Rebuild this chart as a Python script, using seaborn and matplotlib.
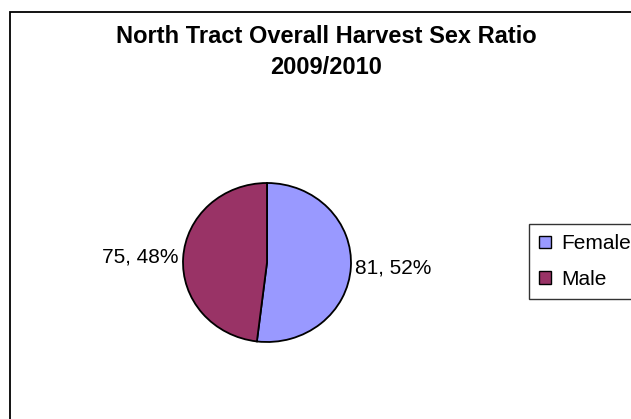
import matplotlib.pyplot as plt
import seaborn as sns
from matplotlib.patches import Rectangle

# Data
categories = ['Female', 'Male']
counts = [81, 75]
colors = ['#9999FF', '#993366']
title = "North Tract Overall Harvest Sex Ratio\n2009/2010"

sns.set_theme(style="white")
plt.rcParams['font.family'] = ['Liberation Sans', 'DejaVu Sans']
plt.rcParams['text.color'] = 'black'

W, H = 631, 419
fig = plt.figure(figsize=(W / 100, H / 100), dpi=100)
fig.patch.set_facecolor('white')

# chart frame (runs off the right and bottom edges in the reference)
fig.patches.append(Rectangle((9.5 / W, -0.1), 1.2, 1 - 12 / H + 0.1,
                             transform=fig.transFigure, fill=False,
                             edgecolor='black', linewidth=1.3))

# pie: slightly wider than tall, centre ~(267, 262)
cx, cy, rx, ry = 267, 262.5, 84, 79.5
ax = fig.add_axes([(cx - rx) / W, 1 - (cy + ry) / H, 2 * rx / W, 2 * ry / H])

total = sum(counts)
pie_labels = [f"{v}, {round(100 * v / total)}%" for v in counts]

wedges, texts = ax.pie(counts, labels=pie_labels, colors=colors,
                       startangle=90, counterclock=False,
                       labeldistance=1.05,
                       wedgeprops=dict(edgecolor='black', linewidth=1.3),
                       textprops=dict(fontsize=15, color='black'))
ax.set_aspect('auto')
ax.set_xlim(-1, 1)
ax.set_ylim(-1, 1)
ax.axis('off')

fig.suptitle(title, x=326 / W, y=1 - 25 / H, va='top', ha='center',
             fontsize=17, fontweight='bold', linespacing=1.42, color='black')

leg = fig.legend(wedges, categories, loc='upper left',
                 bbox_to_anchor=(529 / W, 1 - 224 / H),
                 fontsize=15, frameon=True, fancybox=False,
                 borderaxespad=0, borderpad=0.5, labelspacing=0.8,
                 handlelength=0.55, handleheight=0.55, handletextpad=0.5,
                 labelcolor='black')
leg.get_frame().set_edgecolor('black')
leg.get_frame().set_linewidth(1.0)
for h in leg.legend_handles:
    h.set_linewidth(1.0)

plt.savefig('out.png', dpi=100, facecolor='white')
